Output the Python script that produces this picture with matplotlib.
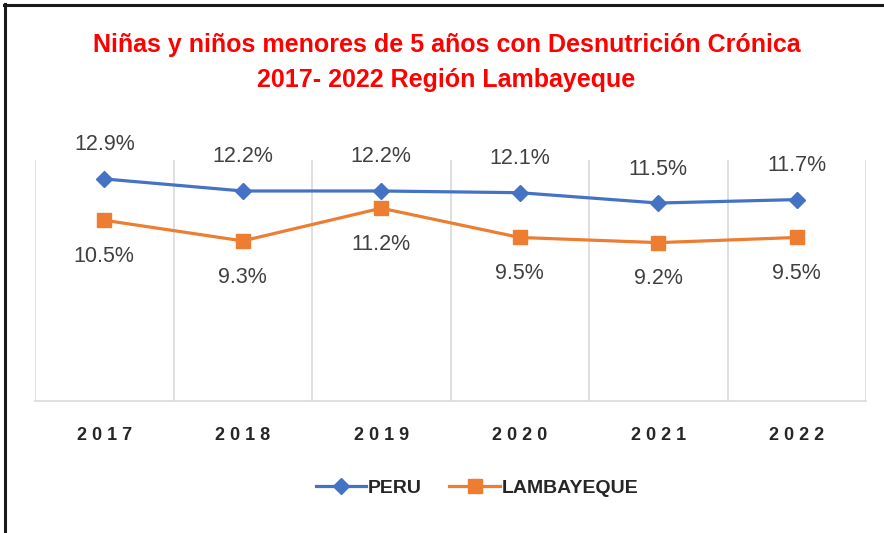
import matplotlib
matplotlib.use("Agg")
import matplotlib.pyplot as plt
from matplotlib.lines import Line2D

years = ["2017", "2018", "2019", "2020", "2021", "2022"]
peru = [12.9, 12.2, 12.2, 12.1, 11.5, 11.7]
lambayeque = [10.5, 9.3, 11.2, 9.5, 9.2, 9.5]

title_lines = ["Niñas y niños menores de 5 años con Desnutrición Crónica",
               "2017- 2022 Región Lambayeque"]

W, H = 884, 533
fig = plt.figure(figsize=(W / 100, H / 100), dpi=100)
fig.patch.set_facecolor("white")

# axes box in pixel coordinates
left, right, top, bottom = 35, 866, 160, 401
ax = fig.add_axes([left / W, 1 - bottom / H, (right - left) / W, (bottom - top) / H])

x = list(range(len(years)))
blue = "#4472C4"
orange = "#ED7D31"
label_color = "#404040"
sans = ["Liberation Sans", "DejaVu Sans"]

ax.plot(x, peru, color=blue, lw=2.3, marker="D", ms=8.5, zorder=3)
ax.plot(x, lambayeque, color=orange, lw=2.3, marker="s", ms=9.5, zorder=3)

for xi, v in zip(x, peru):
    ax.annotate(f"{v:.1f}%", (xi, v), xytext=(0, 24.5), textcoords="offset points",
                ha="center", va="center", fontsize=15.5, color=label_color, family=sans)
for xi, v in zip(x, lambayeque):
    ax.annotate(f"{v:.1f}%", (xi, v), xytext=(0, -26), textcoords="offset points",
                ha="center", va="center", fontsize=15.5, color=label_color, family=sans)

ax.set_xlim(-0.5, len(years) - 0.5)
ax.set_ylim(0, 14)
ax.set_yticks([])
ax.set_xticks([i + 0.5 for i in range(-1, len(years))])
ax.set_xticklabels([])
ax.grid(axis="x", color="#D9D9D9", lw=1.2)
ax.tick_params(axis="x", length=0)
for s in ["top", "right", "left"]:
    ax.spines[s].set_visible(False)
ax.spines["bottom"].set_color("#D9D9D9")
ax.spines["bottom"].set_linewidth(1.2)

# category labels, spaced out and bold
for xi, yr in zip(x, years):
    ax.annotate(" ".join(yr), (xi, 0), xytext=(0, -25), textcoords="offset points",
                ha="center", va="center", fontsize=13, fontweight="bold",
                color="#262626", family=sans, annotation_clip=False)

# two-line red title
for line, ypx in zip(title_lines, [45, 80]):
    fig.text(0.505, 1 - ypx / H, line, ha="center", va="center", fontsize=18,
             fontweight="bold", color="#FF0000", family=sans)

handles = [
    Line2D([], [], color=blue, lw=2.3, marker="D", ms=8.5),
    Line2D([], [], color=orange, lw=2.3, marker="s", ms=9.5),
]
leg = fig.legend(handles, ["PERU", "LAMBAYEQUE"], loc="center",
                 bbox_to_anchor=(477 / W, 1 - 488 / H), ncol=2, frameon=False,
                 handlelength=2.6, handletextpad=0.1, columnspacing=1.4,
                 prop={"family": sans, "weight": "bold", "size": 14})
for t in leg.get_texts():
    t.set_color("#262626")

# outer frame: top and left edges
fig.add_artist(Line2D([4 / W, 1], [1 - 4.5 / H, 1 - 4.5 / H], color="#1A1A1A", lw=2.2,
                      transform=fig.transFigure))
fig.add_artist(Line2D([4.5 / W, 4.5 / W], [0, 1 - 4 / H], color="#1A1A1A", lw=2.2,
                      transform=fig.transFigure))

fig.savefig("out.png", dpi=100, facecolor="white")
